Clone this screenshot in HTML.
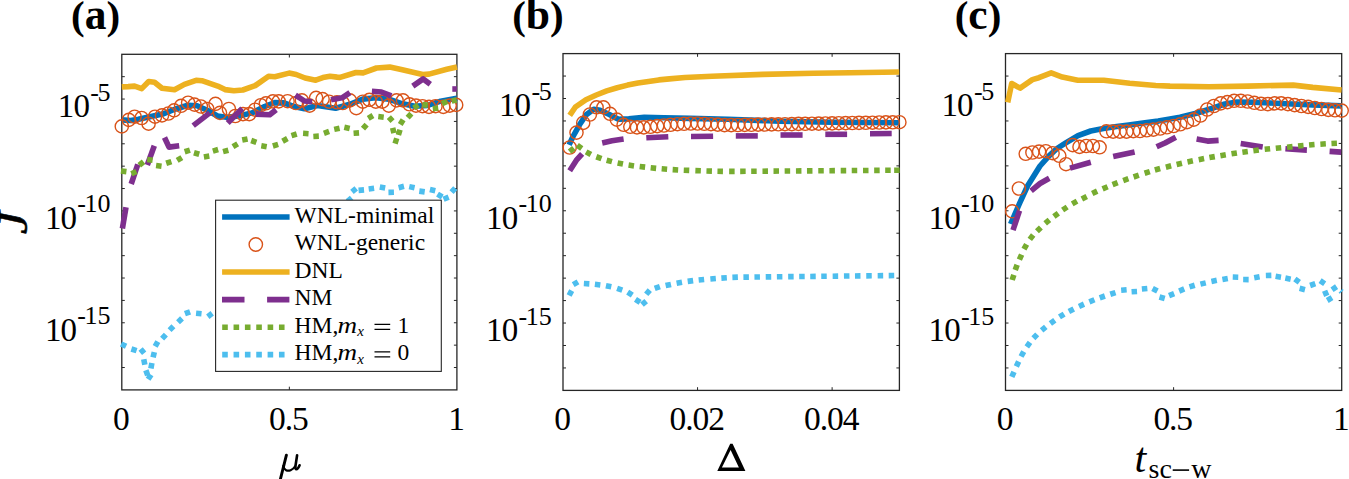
<!DOCTYPE html>
<html><head><meta charset="utf-8"><style>
html,body{margin:0;padding:0;background:#fff;width:1349px;height:479px;overflow:hidden}
svg{display:block}
text{font-family:"Liberation Serif",serif;fill:#000}
</style></head><body>
<svg width="1349" height="479" viewBox="0 0 1349 479">
<defs><clipPath id="clipa"><rect x="121.8" y="54.3" width="335.10" height="335.60"/></clipPath><clipPath id="clipb"><rect x="563.0" y="53.6" width="336.40" height="336.80"/></clipPath><clipPath id="clipc"><rect x="1005.5" y="53.6" width="336.20" height="336.80"/></clipPath></defs>
<rect width="1349" height="479" fill="#fff"/>
<path d="M121.8 367.53h3.0M456.9 367.53h-3.0M121.8 345.15h3.0M456.9 345.15h-3.0M121.8 322.78h3.0M456.9 322.78h-3.0M121.8 300.41h3.0M456.9 300.41h-3.0M121.8 278.03h3.0M456.9 278.03h-3.0M121.8 255.66h3.0M456.9 255.66h-3.0M121.8 233.29h3.0M456.9 233.29h-3.0M121.8 210.91h3.0M456.9 210.91h-3.0M121.8 188.54h3.0M456.9 188.54h-3.0M121.8 166.17h3.0M456.9 166.17h-3.0M121.8 143.79h3.0M456.9 143.79h-3.0M121.8 121.42h3.0M456.9 121.42h-3.0M121.8 99.05h3.0M456.9 99.05h-3.0M121.8 76.67h3.0M456.9 76.67h-3.0M289.35 389.9v-3.2M289.35 54.3v3.2" stroke="#262626" stroke-width="1" fill="none"/><path d="M563.0 367.95h3.0M899.4 367.95h-3.0M563.0 345.49h3.0M899.4 345.49h-3.0M563.0 323.04h3.0M899.4 323.04h-3.0M563.0 300.59h3.0M899.4 300.59h-3.0M563.0 278.13h3.0M899.4 278.13h-3.0M563.0 255.68h3.0M899.4 255.68h-3.0M563.0 233.23h3.0M899.4 233.23h-3.0M563.0 210.77h3.0M899.4 210.77h-3.0M563.0 188.32h3.0M899.4 188.32h-3.0M563.0 165.87h3.0M899.4 165.87h-3.0M563.0 143.41h3.0M899.4 143.41h-3.0M563.0 120.96h3.0M899.4 120.96h-3.0M563.0 98.51h3.0M899.4 98.51h-3.0M563.0 76.05h3.0M899.4 76.05h-3.0M697.56 390.4v-3.2M697.56 53.6v3.2M832.12 390.4v-3.2M832.12 53.6v3.2" stroke="#262626" stroke-width="1" fill="none"/><path d="M1005.5 367.95h3.0M1341.7 367.95h-3.0M1005.5 345.49h3.0M1341.7 345.49h-3.0M1005.5 323.04h3.0M1341.7 323.04h-3.0M1005.5 300.59h3.0M1341.7 300.59h-3.0M1005.5 278.13h3.0M1341.7 278.13h-3.0M1005.5 255.68h3.0M1341.7 255.68h-3.0M1005.5 233.23h3.0M1341.7 233.23h-3.0M1005.5 210.77h3.0M1341.7 210.77h-3.0M1005.5 188.32h3.0M1341.7 188.32h-3.0M1005.5 165.87h3.0M1341.7 165.87h-3.0M1005.5 143.41h3.0M1341.7 143.41h-3.0M1005.5 120.96h3.0M1341.7 120.96h-3.0M1005.5 98.51h3.0M1341.7 98.51h-3.0M1005.5 76.05h3.0M1341.7 76.05h-3.0M1173.60 390.4v-3.2M1173.60 53.6v3.2" stroke="#262626" stroke-width="1" fill="none"/>
<rect x="121.8" y="54.3" width="335.10" height="335.60" fill="none" stroke="#262626" stroke-width="1.3"/><rect x="563.0" y="53.6" width="336.40" height="336.80" fill="none" stroke="#262626" stroke-width="1.3"/><rect x="1005.5" y="53.6" width="336.20" height="336.80" fill="none" stroke="#262626" stroke-width="1.3"/>
<polyline points="121.8,119.9 130.8,120.5 138.4,119.2 149.9,116.7 162.6,114.1 175.4,109.0 188.1,105.2 197.1,105.8 207.3,110.3 217.5,116.0 226.4,117.3 239.1,116.0 251.9,112.9 264.6,106.5 274.8,102.6 284.0,102.9 292.8,106.2 304.5,108.8 317.4,105.6 335.6,108.2 349.9,104.3 362.8,99.1 375.8,97.8 388.8,99.1 401.7,103.6 414.7,106.2 427.7,105.4 440.7,101.2 456.9,98.2" fill="none" stroke="#0072BD" stroke-width="5.6" stroke-linejoin="round" /><g fill="none" stroke="#D95319" stroke-width="1.4"><circle cx="121.8" cy="126.4" r="6.6"/><circle cx="128.8" cy="119.9" r="6.6"/><circle cx="134.6" cy="116.7" r="6.6"/><circle cx="141.6" cy="118.0" r="6.6"/><circle cx="148.6" cy="123.7" r="6.6"/><circle cx="155.0" cy="116.7" r="6.6"/><circle cx="162.0" cy="115.4" r="6.6"/><circle cx="168.4" cy="113.5" r="6.6"/><circle cx="174.1" cy="110.3" r="6.6"/><circle cx="181.1" cy="105.8" r="6.6"/><circle cx="188.1" cy="102.7" r="6.6"/><circle cx="194.5" cy="104.6" r="6.6"/><circle cx="200.9" cy="106.5" r="6.6"/><circle cx="207.3" cy="109.0" r="6.6"/><circle cx="215.5" cy="103.9" r="6.6"/><circle cx="220.0" cy="112.9" r="6.6"/><circle cx="228.9" cy="109.0" r="6.6"/><circle cx="235.3" cy="116.0" r="6.6"/><circle cx="243.0" cy="114.1" r="6.6"/><circle cx="249.3" cy="114.1" r="6.6"/><circle cx="255.1" cy="109.7" r="6.6"/><circle cx="260.8" cy="105.2" r="6.6"/><circle cx="265.9" cy="103.3" r="6.6"/><circle cx="272.9" cy="101.4" r="6.6"/><circle cx="278.7" cy="101.4" r="6.6"/><circle cx="287.6" cy="101.2" r="6.6"/><circle cx="296.0" cy="103.0" r="6.6"/><circle cx="301.9" cy="100.4" r="6.6"/><circle cx="309.6" cy="105.6" r="6.6"/><circle cx="316.1" cy="97.8" r="6.6"/><circle cx="322.6" cy="99.1" r="6.6"/><circle cx="329.1" cy="101.7" r="6.6"/><circle cx="336.9" cy="102.3" r="6.6"/><circle cx="342.7" cy="103.0" r="6.6"/><circle cx="349.9" cy="100.4" r="6.6"/><circle cx="356.3" cy="108.2" r="6.6"/><circle cx="362.8" cy="101.7" r="6.6"/><circle cx="369.3" cy="99.8" r="6.6"/><circle cx="375.8" cy="101.7" r="6.6"/><circle cx="382.3" cy="101.7" r="6.6"/><circle cx="388.8" cy="105.6" r="6.6"/><circle cx="396.6" cy="100.4" r="6.6"/><circle cx="403.0" cy="100.4" r="6.6"/><circle cx="409.5" cy="104.3" r="6.6"/><circle cx="416.0" cy="105.6" r="6.6"/><circle cx="422.5" cy="106.2" r="6.6"/><circle cx="429.0" cy="106.9" r="6.6"/><circle cx="435.5" cy="106.2" r="6.6"/><circle cx="443.3" cy="106.9" r="6.6"/><circle cx="449.7" cy="105.6" r="6.6"/><circle cx="456.2" cy="104.9" r="6.6"/></g><polyline points="121.8,86.9 128.2,86.6 134.6,86.1 141.7,88.6 148.7,81.5 154.5,82.3 162.0,88.2 174.5,89.8 184.4,84.4 196.1,80.3 201.9,80.7 217.7,86.1 225.0,89.6 233.9,90.7 242.8,90.0 255.2,85.6 268.6,76.2 274.8,76.7 289.1,73.1 296.2,74.5 305.1,78.0 315.7,80.2 322.9,77.6 330.0,76.2 337.1,77.1 340.0,77.4 356.0,72.5 363.1,72.9 376.5,68.0 389.8,67.1 402.3,69.8 422.7,74.5 429.0,74.1 446.8,69.3 457.0,66.9" fill="none" stroke="#EDB120" stroke-width="5.6" stroke-linejoin="round" /><g fill="none" stroke="#7E2F8E" stroke-width="5.6"><polyline points="122.4,228.5 126.0,207.3" stroke-linejoin="round"/><polyline points="131.2,184.0 137.8,164.3" stroke-linejoin="round"/><polyline points="147.3,165.0 154.3,145.8" stroke-linejoin="round"/><polyline points="164.5,137.5 169.0,147.1 179.2,145.8" stroke-linejoin="round"/><polyline points="193.2,125.6 209.8,112.9" stroke-linejoin="round"/><polyline points="227.7,123.0 242.3,108.4" stroke-linejoin="round"/><polyline points="255.7,114.1 269.7,114.8 276.1,109.7" stroke-linejoin="round"/><polyline points="295.4,95.2 304.5,101.0 312.2,101.7" stroke-linejoin="round"/><polyline points="331.0,99.8 342.1,97.8 349.9,92.6" stroke-linejoin="round"/><polyline points="371.9,91.3 381.4,92.0 391.4,95.9" stroke-linejoin="round"/><polyline points="412.8,86.1 423.2,78.9 430.3,84.2" stroke-linejoin="round"/><polyline points="452.3,89.0 456.9,89.0" stroke-linejoin="round"/></g><path d="M120.97 170.95L126.43 171.65M131.38 173.71L136.42 171.49M139.25 165.21L143.55 161.79M147.17 159.54L152.63 160.26M156.07 165.44L161.53 166.16M166.19 163.26L171.41 161.54M177.16 160.45L181.84 157.55M184.68 151.74L189.92 150.06M193.96 152.73L199.24 154.27M203.89 156.96L209.31 156.04M212.86 151.07L218.14 149.53M223.04 151.59L228.36 150.21M232.94 146.60L237.66 143.80M242.21 140.05L247.59 138.95M251.21 140.49L256.39 142.31M261.29 145.73L266.71 146.67M272.87 145.99L278.13 144.41M282.60 141.24L287.40 138.56M291.47 135.61L296.73 133.99M303.06 133.31L308.54 133.69M313.35 136.45L318.85 136.15M323.91 133.33L329.09 131.47M334.21 129.39L339.59 128.21M344.32 127.30L349.68 128.50M353.56 133.30L359.04 132.90M362.98 128.66L366.62 124.54M368.24 118.31L372.96 115.49M378.27 116.59L383.73 117.21M388.86 117.16L392.54 121.24M392.66 127.83L393.94 133.17M393.28 140.06L398.52 141.74M398.39 135.03L400.01 129.77M400.26 124.44L403.14 119.76M407.64 117.63L411.36 113.57M413.73 108.06L418.27 104.94M422.36 104.63L427.84 105.17M432.77 108.72L438.23 108.08M442.06 103.66L447.14 101.54M451.75 101.11L456.65 100.09" stroke="#77AC30" stroke-width="5.6" fill="none"/><path d="M121.09 343.97L126.11 346.23M131.38 348.96L136.62 350.64M140.63 349.00L144.17 353.20M143.75 359.30L144.85 364.70M145.88 370.21L147.72 375.39M148.10 379.31L151.10 374.69M150.90 368.40L151.90 363.00M153.07 357.48L154.33 352.12M155.15 346.49L157.85 341.71M162.11 338.60L165.89 334.60M169.57 330.16L173.43 326.24M178.02 322.21L181.98 318.39M184.91 313.74L190.09 311.86M196.06 313.23L201.54 313.77M207.81 316.66L212.19 313.34M347.52 201.40L351.68 197.80M351.97 191.83L356.23 188.37M358.56 190.34L364.04 189.86M368.67 188.95L374.13 188.25M379.80 186.89L385.20 187.91M388.45 192.36L393.95 192.24M398.63 187.66L403.97 186.34M409.21 186.62L414.59 187.78M419.28 191.12L424.72 191.88M429.92 189.49L435.28 190.71M437.54 194.19L442.26 197.01M443.55 199.24L448.65 197.16M451.56 192.14L455.24 188.06" stroke="#4DBEEE" stroke-width="5.6" fill="none"/><polyline points="569.1,144.9 573.0,136.5 579.5,124.8 585.9,115.1 593.7,109.2 600.2,110.3 609.3,114.5 618.4,119.2 628.8,118.9 644.3,117.3 663.8,117.8 689.7,118.4 728.0,119.3 779.9,121.2 831.8,122.2 899.2,122.7" fill="none" stroke="#0072BD" stroke-width="5.6" stroke-linejoin="round" /><g fill="none" stroke="#D95319" stroke-width="1.4"><circle cx="569.7" cy="147.5" r="6.6"/><circle cx="576.5" cy="132.6" r="6.6"/><circle cx="583.2" cy="122.9" r="6.6"/><circle cx="589.9" cy="114.5" r="6.6"/><circle cx="596.6" cy="107.3" r="6.6"/><circle cx="603.4" cy="107.3" r="6.6"/><circle cx="610.1" cy="113.8" r="6.6"/><circle cx="616.8" cy="119.6" r="6.6"/><circle cx="623.6" cy="124.8" r="6.6"/><circle cx="630.3" cy="126.8" r="6.6"/><circle cx="637.0" cy="127.4" r="6.6"/><circle cx="643.7" cy="127.4" r="6.6"/><circle cx="650.5" cy="126.8" r="6.6"/><circle cx="657.2" cy="126.1" r="6.6"/><circle cx="663.9" cy="125.5" r="6.6"/><circle cx="670.6" cy="124.8" r="6.6"/><circle cx="677.4" cy="124.2" r="6.6"/><circle cx="684.1" cy="123.8" r="6.6"/><circle cx="690.8" cy="123.5" r="6.6"/><circle cx="697.6" cy="123.5" r="6.6"/><circle cx="704.3" cy="123.8" r="6.6"/><circle cx="711.0" cy="124.2" r="6.6"/><circle cx="717.7" cy="124.6" r="6.6"/><circle cx="724.5" cy="125.1" r="6.6"/><circle cx="731.2" cy="125.1" r="6.6"/><circle cx="737.9" cy="125.0" r="6.6"/><circle cx="744.7" cy="124.9" r="6.6"/><circle cx="751.4" cy="124.8" r="6.6"/><circle cx="758.1" cy="124.6" r="6.6"/><circle cx="764.8" cy="124.5" r="6.6"/><circle cx="771.6" cy="124.4" r="6.6"/><circle cx="778.3" cy="124.3" r="6.6"/><circle cx="785.0" cy="124.2" r="6.6"/><circle cx="791.8" cy="124.1" r="6.6"/><circle cx="798.5" cy="123.9" r="6.6"/><circle cx="805.2" cy="123.8" r="6.6"/><circle cx="811.9" cy="123.7" r="6.6"/><circle cx="818.7" cy="123.6" r="6.6"/><circle cx="825.4" cy="123.5" r="6.6"/><circle cx="832.1" cy="123.4" r="6.6"/><circle cx="838.8" cy="123.2" r="6.6"/><circle cx="845.6" cy="123.1" r="6.6"/><circle cx="852.3" cy="123.0" r="6.6"/><circle cx="859.0" cy="122.9" r="6.6"/><circle cx="865.8" cy="122.8" r="6.6"/><circle cx="872.5" cy="122.7" r="6.6"/><circle cx="879.2" cy="122.5" r="6.6"/><circle cx="885.9" cy="122.4" r="6.6"/><circle cx="892.7" cy="122.3" r="6.6"/><circle cx="899.4" cy="122.2" r="6.6"/></g><polyline points="569.7,115.4 575.4,107.0 585.9,99.7 596.3,95.0 606.7,90.9 617.2,87.7 627.6,85.1 638.0,83.0 648.5,81.5 658.9,79.9 669.4,78.9 685.0,77.5 712.1,76.3 762.8,74.4 813.5,73.2 850.0,72.8 899.2,72.0" fill="none" stroke="#EDB120" stroke-width="5.6" stroke-linejoin="round" /><g fill="none" stroke="#7E2F8E" stroke-width="5.6"><polyline points="569.7,170.7 576.9,159.6 582.1,153.8" stroke-linejoin="round"/><polyline points="602.2,143.0 612.0,140.8 623.6,139.1" stroke-linejoin="round"/><polyline points="646.3,137.8 668.3,136.8" stroke-linejoin="round"/><polyline points="691.0,136.5 713.1,136.3" stroke-linejoin="round"/><polyline points="735.8,135.9 757.8,135.9" stroke-linejoin="round"/><polyline points="780.5,135.0 802.6,135.0" stroke-linejoin="round"/><polyline points="825.3,134.3 847.1,134.3" stroke-linejoin="round"/><polyline points="870.0,133.7 891.7,133.5" stroke-linejoin="round"/></g><path d="M569.59 151.67L573.81 148.13M577.25 145.32L581.75 148.48M586.10 151.86L590.90 154.54M596.32 156.75L601.48 158.65M606.65 160.18L611.95 161.62M617.61 162.94L622.99 164.06M628.58 165.09L634.02 165.91M639.67 166.48L645.13 167.12M650.66 167.83L656.14 168.37M661.66 168.79L667.14 169.21M672.65 169.64L678.15 169.96M683.75 170.19L689.25 170.41M695.35 170.60L700.85 170.80M706.45 171.03L711.95 171.17M717.45 171.26L722.95 171.34M729.14 171.39L734.64 171.39M740.17 171.33L745.67 171.30M751.19 171.26L756.69 171.22M762.48 171.18L767.98 171.14M773.51 171.10L779.01 171.06M784.66 171.02L790.16 170.98M795.95 170.94L801.45 170.90M806.97 170.86L812.47 170.83M818.26 170.78L823.76 170.75M829.41 170.71L834.91 170.67M840.70 170.63L846.20 170.59M851.73 170.55L857.23 170.51M863.01 170.47L868.51 170.43M874.17 170.39L879.67 170.35M885.19 170.31L890.69 170.27M894.15 170.25L899.65 170.20" stroke="#77AC30" stroke-width="5.6" fill="none"/><path d="M569.11 295.53L571.69 290.67M573.22 284.68L577.98 281.92M583.85 283.54L589.35 283.86M594.87 284.28L600.33 284.92M605.91 285.74L611.29 286.86M617.10 288.30L622.30 290.10M627.69 292.21L632.31 295.19M635.49 299.41L640.11 302.39M642.01 304.58L646.19 301.02M646.20 294.28L649.80 290.12M654.71 288.42L659.89 286.58M665.61 285.59L670.99 284.41M676.59 283.19L682.01 282.21M687.67 281.37L693.13 280.63M698.66 279.97L704.14 279.43M710.36 279.02L715.84 278.58M721.36 278.09L726.84 277.71M732.39 277.34L737.88 277.14M743.41 277.15L748.91 277.09M754.44 277.03L759.94 276.97M765.72 276.91L771.22 276.85M776.88 276.79L782.38 276.73M788.16 276.67L793.66 276.61M799.19 276.55L804.69 276.49M810.22 276.43L815.72 276.37M821.24 276.31L826.74 276.25M832.66 276.19L838.16 276.13M843.94 276.07L849.44 276.01M854.97 275.95L860.47 275.89M866.25 275.83L871.75 275.77M877.67 275.70L883.17 275.64M888.70 275.58L894.20 275.52" stroke="#4DBEEE" stroke-width="5.6" fill="none"/><polyline points="1010.6,224.0 1019.5,203.5 1027.5,186.0 1035.0,174.0 1040.0,166.0 1049.0,155.9 1057.0,148.5 1065.4,143.2 1078.0,135.6 1090.7,131.0 1103.4,128.5 1116.7,126.6 1128.8,124.9 1143.0,123.0 1158.2,121.1 1170.0,119.0 1180.0,117.3 1196.3,113.2 1212.6,108.2 1224.9,104.0 1237.1,102.0 1253.4,102.3 1269.7,103.0 1286.7,103.8 1312.7,104.9 1341.6,105.9" fill="none" stroke="#0072BD" stroke-width="5.6" stroke-linejoin="round" /><g fill="none" stroke="#D95319" stroke-width="1.4"><circle cx="1012.2" cy="211.3" r="6.6"/><circle cx="1018.9" cy="188.5" r="6.6"/><circle cx="1025.7" cy="153.8" r="6.6"/><circle cx="1032.4" cy="152.5" r="6.6"/><circle cx="1039.1" cy="151.6" r="6.6"/><circle cx="1045.8" cy="151.2" r="6.6"/><circle cx="1052.6" cy="153.2" r="6.6"/><circle cx="1059.3" cy="155.8" r="6.6"/><circle cx="1066.0" cy="164.2" r="6.6"/><circle cx="1072.7" cy="145.1" r="6.6"/><circle cx="1079.5" cy="146.9" r="6.6"/><circle cx="1086.2" cy="146.0" r="6.6"/><circle cx="1092.9" cy="146.0" r="6.6"/><circle cx="1099.6" cy="147.3" r="6.6"/><circle cx="1106.4" cy="131.3" r="6.6"/><circle cx="1113.1" cy="131.6" r="6.6"/><circle cx="1119.8" cy="131.6" r="6.6"/><circle cx="1126.5" cy="131.6" r="6.6"/><circle cx="1133.3" cy="131.2" r="6.6"/><circle cx="1140.0" cy="131.0" r="6.6"/><circle cx="1146.7" cy="130.3" r="6.6"/><circle cx="1153.4" cy="129.6" r="6.6"/><circle cx="1160.2" cy="128.5" r="6.6"/><circle cx="1166.9" cy="127.3" r="6.6"/><circle cx="1173.6" cy="126.0" r="6.6"/><circle cx="1180.3" cy="124.3" r="6.6"/><circle cx="1187.0" cy="122.2" r="6.6"/><circle cx="1193.8" cy="119.6" r="6.6"/><circle cx="1200.5" cy="115.5" r="6.6"/><circle cx="1207.2" cy="109.5" r="6.6"/><circle cx="1213.9" cy="106.0" r="6.6"/><circle cx="1220.7" cy="103.4" r="6.6"/><circle cx="1227.4" cy="102.1" r="6.6"/><circle cx="1234.1" cy="100.8" r="6.6"/><circle cx="1240.8" cy="100.8" r="6.6"/><circle cx="1247.6" cy="101.5" r="6.6"/><circle cx="1254.3" cy="102.8" r="6.6"/><circle cx="1261.0" cy="103.8" r="6.6"/><circle cx="1267.7" cy="104.1" r="6.6"/><circle cx="1274.5" cy="103.4" r="6.6"/><circle cx="1281.2" cy="103.4" r="6.6"/><circle cx="1287.9" cy="104.1" r="6.6"/><circle cx="1294.6" cy="105.1" r="6.6"/><circle cx="1301.4" cy="106.0" r="6.6"/><circle cx="1308.1" cy="106.9" r="6.6"/><circle cx="1314.8" cy="108.0" r="6.6"/><circle cx="1321.5" cy="109.0" r="6.6"/><circle cx="1328.3" cy="109.9" r="6.6"/><circle cx="1335.0" cy="110.3" r="6.6"/><circle cx="1341.7" cy="110.6" r="6.6"/></g><polyline points="1007.7,102.3 1011.7,83.5 1020.1,88.1 1032.4,79.6 1038.9,77.7 1051.2,72.9 1062.3,77.1 1077.8,80.3 1103.8,80.3 1129.7,83.3 1155.7,85.5 1170.0,86.1 1208.9,86.8 1247.8,86.1 1293.2,85.1 1312.7,87.4 1341.6,90.0" fill="none" stroke="#EDB120" stroke-width="5.6" stroke-linejoin="round" /><g fill="none" stroke="#7E2F8E" stroke-width="5.6"><polyline points="1013.0,230.1 1019.5,210.7" stroke-linejoin="round"/><polyline points="1031.1,190.8 1040.0,183.5 1049.3,178.3" stroke-linejoin="round"/><polyline points="1070.0,168.1 1090.8,162.2" stroke-linejoin="round"/><polyline points="1113.2,156.6 1134.6,151.9" stroke-linejoin="round"/><polyline points="1156.6,146.8 1165.0,143.0 1175.8,137.2" stroke-linejoin="round"/><polyline points="1196.6,139.1 1207.6,141.1 1218.6,140.4" stroke-linejoin="round"/><polyline points="1240.7,143.6 1262.7,146.9" stroke-linejoin="round"/><polyline points="1285.4,148.8 1306.9,150.1" stroke-linejoin="round"/><polyline points="1329.6,151.4 1341.2,152.1" stroke-linejoin="round"/></g><path d="M1012.16 280.02L1013.84 274.78M1015.25 269.98L1017.15 264.82M1019.39 259.62L1021.61 254.58M1023.97 249.21L1026.63 244.39M1029.81 239.37L1033.19 235.03M1036.94 231.33L1040.86 227.47M1045.20 223.38L1049.40 219.82M1053.89 216.44L1058.31 213.16M1062.61 210.02L1067.19 206.98M1072.20 203.84L1077.00 201.16M1081.85 198.94L1086.75 196.46M1092.22 193.48L1097.18 191.12M1102.57 188.87L1107.63 186.73M1112.54 184.71L1117.66 182.69M1123.21 180.53L1128.39 178.67M1133.59 176.98L1138.81 175.22M1144.58 173.24L1149.82 171.56M1154.85 170.03L1160.15 168.57M1165.83 167.17L1171.17 165.83M1176.62 164.43L1181.98 163.17M1187.51 161.97L1192.89 160.83M1198.70 159.63L1204.10 158.57M1209.39 157.57L1214.81 156.63M1220.39 155.75L1225.81 154.85M1231.48 153.83L1236.92 152.97M1242.38 152.17L1247.82 151.43M1253.37 150.74L1258.83 150.06M1264.67 149.29L1270.13 148.71M1275.76 148.26L1281.24 147.74M1287.06 147.17L1292.54 146.63M1298.06 146.06L1303.54 145.54M1309.06 145.02L1314.54 144.58M1320.36 144.17L1325.84 143.83M1331.45 143.55L1336.95 143.25" stroke="#77AC30" stroke-width="5.6" fill="none"/><path d="M1011.79 376.91L1014.01 371.89M1016.33 366.49L1018.67 361.51M1021.05 356.50L1023.75 351.70M1026.79 346.83L1030.01 342.37M1033.39 338.28L1037.21 334.32M1041.59 330.47L1045.81 326.93M1050.38 323.42L1054.82 320.18M1059.46 316.95L1064.14 314.05M1068.86 311.46L1073.74 308.94M1079.00 306.44L1084.00 304.16M1089.35 301.83L1094.45 299.77M1099.71 297.81L1104.89 295.99M1110.28 294.24L1115.52 292.56M1121.16 290.23L1126.64 289.77M1131.56 291.77L1137.04 291.43M1141.86 288.94L1147.34 288.46M1152.56 288.53L1157.44 291.07M1159.46 297.04L1164.74 298.56M1169.04 295.62L1174.16 293.58M1179.16 291.05L1184.24 288.95M1189.47 286.90L1194.73 285.30M1200.42 284.13L1205.78 282.87M1211.41 281.45L1216.79 280.35M1222.39 279.48L1227.81 278.52M1232.75 277.02L1238.25 277.18M1243.15 279.57L1248.65 279.63M1254.20 277.80L1259.60 276.80M1265.85 275.46L1271.35 275.34M1275.59 276.35L1281.01 277.25M1285.31 278.04L1290.69 279.16M1294.88 279.08L1299.32 282.32M1299.63 288.33L1304.97 289.67M1310.10 285.48L1315.30 283.72M1320.11 280.67L1324.69 283.73M1324.62 290.77L1326.78 295.83M1327.23 300.50L1331.97 297.70M1332.02 289.74L1336.58 286.66M1340.53 290.73L1341.67 291.87" stroke="#4DBEEE" stroke-width="5.6" fill="none"/>
<rect x="215.6" y="200.2" width="225.7" height="171.2" fill="#fff" stroke="#262626" stroke-width="1.1"/><line x1="222.1" y1="217.0" x2="289.6" y2="217.0" stroke="#0072BD" stroke-width="5.6"/><circle cx="255.8" cy="244.5" r="6.7" fill="none" stroke="#D95319" stroke-width="1.4"/><line x1="222.1" y1="272.0" x2="289.6" y2="272.0" stroke="#EDB120" stroke-width="5.6"/><path d="M222 299.6h22.5M267.1 299.6h22.3" stroke="#7E2F8E" stroke-width="5.6"/><line x1="222.2" y1="327.2" x2="290" y2="327.2" stroke="#77AC30" stroke-width="5.6" stroke-dasharray="5.6 5.75"/><line x1="222.2" y1="354.6" x2="290" y2="354.6" stroke="#4DBEEE" stroke-width="5.6" stroke-dasharray="5.6 5.75"/><text x="294.6" y="222.6" font-size="23.5">WNL-minimal</text><text x="294.6" y="250.1" font-size="23.5">WNL-generic</text><text x="294.6" y="277.6" font-size="23.5">DNL</text><text x="294.6" y="305.2" font-size="23.5">NM</text><text x="294.6" y="332.8" font-size="23.5">HM,</text><text x="337.4" y="332.8" font-size="23.5" font-style="italic" textLength="19.6" lengthAdjust="spacingAndGlyphs">m</text><text x="357.2" y="336.3" font-size="15" font-style="italic">x</text><path d="M374.5 323.85h15.7v1.25h-15.7zM374.5 328.85h15.7v1.25h-15.7z" fill="#000"/><text x="397.5" y="332.8" font-size="23.5">1</text><text x="294.6" y="360.2" font-size="23.5">HM,</text><text x="337.4" y="360.2" font-size="23.5" font-style="italic" textLength="19.6" lengthAdjust="spacingAndGlyphs">m</text><text x="357.2" y="363.7" font-size="15" font-style="italic">x</text><path d="M374.5 351.25h15.7v1.25h-15.7zM374.5 356.25h15.7v1.25h-15.7z" fill="#000"/><text x="397.5" y="360.2" font-size="23.5">0</text>
<text x="120.9" y="430.2" text-anchor="middle" font-size="33.5" letter-spacing="-1.1">0</text><text x="288.4" y="430.2" text-anchor="middle" font-size="33.5" letter-spacing="-1.1">0.5</text><text x="456.0" y="430.2" text-anchor="middle" font-size="33.5" letter-spacing="-1.1">1</text><text x="110.5" y="100.5" text-anchor="end" font-size="26">-<tspan dx="-1.5">5</tspan></text><text x="89.1" y="116.9" text-anchor="end" font-size="33" letter-spacing="-0.8">10</text><text x="110.5" y="212.4" text-anchor="end" font-size="26">-<tspan dx="-1.5">10</tspan></text><text x="76.3" y="228.8" text-anchor="end" font-size="33" letter-spacing="-0.8">10</text><text x="110.5" y="324.3" text-anchor="end" font-size="26">-<tspan dx="-1.5">15</tspan></text><text x="76.3" y="340.7" text-anchor="end" font-size="33" letter-spacing="-0.8">10</text><text x="71.0" y="29.0" font-size="41" font-weight="bold">(<tspan font-size="43.5">a</tspan>)</text><text x="562.1" y="430.2" text-anchor="middle" font-size="33.5" letter-spacing="-1.1">0</text><text x="696.7" y="430.2" text-anchor="middle" font-size="33.5" letter-spacing="-1.1">0.02</text><text x="831.2" y="430.2" text-anchor="middle" font-size="33.5" letter-spacing="-1.1">0.04</text><text x="551.7" y="100.0" text-anchor="end" font-size="26">-<tspan dx="-1.5">5</tspan></text><text x="530.3" y="116.4" text-anchor="end" font-size="33" letter-spacing="-0.8">10</text><text x="551.7" y="212.3" text-anchor="end" font-size="26">-<tspan dx="-1.5">10</tspan></text><text x="517.5" y="228.7" text-anchor="end" font-size="33" letter-spacing="-0.8">10</text><text x="551.7" y="324.5" text-anchor="end" font-size="26">-<tspan dx="-1.5">15</tspan></text><text x="517.5" y="340.9" text-anchor="end" font-size="33" letter-spacing="-0.8">10</text><text x="512.2" y="29.0" font-size="41" font-weight="bold">(<tspan font-size="43.5">b</tspan>)</text><text x="1004.6" y="430.2" text-anchor="middle" font-size="33.5" letter-spacing="-1.1">0</text><text x="1172.7" y="430.2" text-anchor="middle" font-size="33.5" letter-spacing="-1.1">0.5</text><text x="1340.8" y="430.2" text-anchor="middle" font-size="33.5" letter-spacing="-1.1">1</text><text x="994.2" y="100.0" text-anchor="end" font-size="26">-<tspan dx="-1.5">5</tspan></text><text x="972.8" y="116.4" text-anchor="end" font-size="33" letter-spacing="-0.8">10</text><text x="994.2" y="212.3" text-anchor="end" font-size="26">-<tspan dx="-1.5">10</tspan></text><text x="960.0" y="228.7" text-anchor="end" font-size="33" letter-spacing="-0.8">10</text><text x="994.2" y="324.5" text-anchor="end" font-size="26">-<tspan dx="-1.5">15</tspan></text><text x="960.0" y="340.9" text-anchor="end" font-size="33" letter-spacing="-0.8">10</text><text x="954.7" y="29.0" font-size="41" font-weight="bold">(<tspan font-size="43.5">c</tspan>)</text>
<g fill="none" stroke="#000" stroke-linecap="round"><path d="M286.4 455.2L280.3 479.6" stroke-width="2.9"/><path d="M283.4 465.8C283.9 470.4 287.6 471.4 290.6 470.2C292.5 469.4 294.2 468 295.2 466.3" stroke-width="2.2"/><path d="M297.1 455.2L295.4 466.5C295.0 469.8 297.2 471.0 299.6 465.3" stroke-width="2.6"/></g><path d="M717.3 471.1L730.2 443.8H732.6L745.4 471.1Z M721.9 467.6H738.9L730.6 449.9Z" fill="#000" fill-rule="evenodd"/><text x="1134.4" y="472" font-size="42" font-style="italic">t</text><text x="1148.5" y="477.5" font-size="28">sc</text><rect x="1172.7" y="469.3" width="16.4" height="1.6" fill="#000"/><text x="1191.2" y="477.5" font-size="28">w</text><text transform="translate(27,234.2) rotate(-90)" font-size="42" font-style="italic" textLength="23" lengthAdjust="spacingAndGlyphs" stroke="#000" stroke-width="0.5">J</text>
</svg>
</body></html>
